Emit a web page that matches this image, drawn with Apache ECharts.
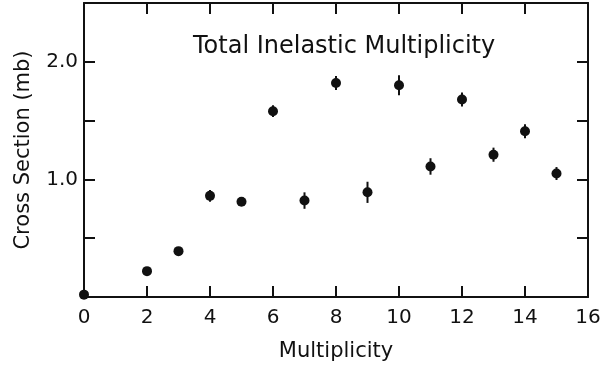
<!DOCTYPE html>
<html>
<head>
<meta charset="utf-8">
<script src="https://cdn.jsdelivr.net/npm/echarts@6/dist/echarts.min.js"></script>
<style>
  html, body { margin: 0; padding: 0; background: #fff; }
  #chart { width: 613px; height: 367px; }
</style>
</head>
<body>
<div id="chart"></div>
<script>
// values
const multiplicity = [0, 2, 3, 4, 5, 6, 7, 8, 9, 10, 11, 12, 13, 14, 15];
const crossSection = [0.02, 0.22, 0.39, 0.86, 0.81, 1.58, 0.82, 1.82, 0.89, 1.80, 1.11, 1.68, 1.21, 1.41, 1.05];
const errors = [0, 0, 0, 0.05, 0.02, 0.05, 0.07, 0.06, 0.09, 0.085, 0.07, 0.06, 0.06, 0.06, 0.055];
const yLabels = { '1': '1.0', '2': '2.0' };

const FONT = 'DejaVu Sans';
const INK = '#111';

const points = multiplicity.map((m, i) => [m, crossSection[i], errors[i]]);

const chart = echarts.init(document.getElementById('chart'));

// frame axes: line + inward ticks, never snapped onto the other axis' zero
function frameAxis(extra) {
  return Object.assign({
    type: 'value',
    min: 0,
    axisLine: { show: true, onZero: false, lineStyle: { color: INK, width: 2 } },
    axisTick: { show: true, inside: true, length: 11, lineStyle: { color: INK, width: 2 } },
    splitLine: { show: false }
  }, extra);
}

chart.setOption({
  backgroundColor: '#fff',
  animation: false,
  title: {
    text: 'Total Inelastic Multiplicity',
    left: 188,
    top: 30,
    textStyle: { fontFamily: FONT, fontSize: 24, fontWeight: 'normal', color: INK }
  },
  grid: { left: 84, right: 25, top: 3, bottom: 70 },
  xAxis: [
    frameAxis({
      max: 16, interval: 2, position: 'bottom',
      name: 'Multiplicity', nameLocation: 'middle', nameGap: 44,
      nameTextStyle: { fontFamily: FONT, fontSize: 21, color: INK },
      axisLabel: { fontFamily: FONT, fontSize: 20, color: INK, margin: 11 }
    }),
    frameAxis({
      max: 16, interval: 2, position: 'top',
      axisLabel: { show: false }
    })
  ],
  yAxis: [
    frameAxis({
      max: 2.5, interval: 0.5, position: 'left',
      name: 'Cross Section (mb)', nameLocation: 'middle', nameGap: 50,
      nameTextStyle: { fontFamily: FONT, fontSize: 21, color: INK },
      axisLabel: {
        fontFamily: FONT, fontSize: 20, color: INK, margin: 6,
        formatter: v => yLabels[String(v)] || ''
      }
    }),
    frameAxis({
      max: 2.5, interval: 0.5, position: 'right',
      axisLabel: { show: false }
    })
  ],
  series: [
    {
      type: 'custom',
      clip: false,
      data: points,
      renderItem(params, api) {
        const x = api.value(0), y = api.value(1), e = api.value(2);
        const top = api.coord([x, y + e]);
        const bot = api.coord([x, y - e]);
        return {
          type: 'line',
          shape: { x1: top[0], y1: top[1], x2: bot[0], y2: bot[1] },
          style: { stroke: INK, lineWidth: 2 }
        };
      },
      z: 3
    },
    {
      type: 'scatter',
      data: points.map(p => [p[0], p[1]]),
      symbol: 'circle',
      symbolSize: 10,
      itemStyle: { color: INK, opacity: 1 },
      clip: false,
      z: 4
    }
  ]
});
</script>
</body>
</html>
